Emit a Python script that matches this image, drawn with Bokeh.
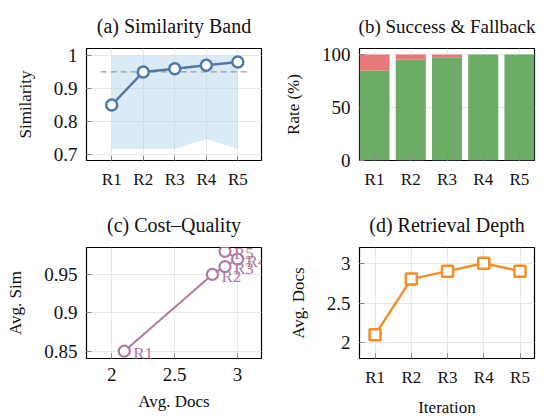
from bokeh.plotting import figure
from bokeh.layouts import column, row
from bokeh.models import FixedTicker, NumeralTickFormatter, Range1d, ColumnDataSource, LabelSet
from bokeh.embed import file_html
from bokeh.resources import INLINE

# ---- data ----
rounds = ["R1", "R2", "R3", "R4", "R5"]
idx = [1, 2, 3, 4, 5]
similarity = [0.85, 0.95, 0.96, 0.97, 0.98]
band_low = [0.717, 0.717, 0.717, 0.747, 0.717]
band_high = [1.0, 1.0, 1.0, 1.0, 1.0]
threshold = 0.95
success = [85, 95, 97.5, 100, 100]
fallback = [15, 5, 2.5, 0, 0]
avg_docs = [2.1, 2.8, 2.9, 3.0, 2.9]

FONT = "Liberation Serif"
BLUE = "#4e79a7"
GREEN = "#6cac67"
RED = "#e8797a"
PINK = "#b07aa1"
ORANGE = "#f28e2b"


def style(p, xticks, yticks, xlabels=None, title_size="20px"):
    p.title.text_font = FONT
    p.title.text_font_size = title_size
    p.title.text_font_style = "normal"
    p.title.align = "center"
    p.title.text_color = "#111111"
    p.title.standoff = 24
    p.outline_line_color = "black"
    p.outline_line_width = 1.2
    p.outline_line_alpha = 1
    for ax in p.axis:
        ax.axis_line_color = None
        ax.major_tick_in = 5
        ax.major_tick_out = 0
        ax.major_tick_line_color = "#888888"
        ax.minor_tick_line_color = None
        ax.major_label_text_font = FONT
        ax.axis_label_text_font = FONT
        ax.axis_label_text_font_style = "normal"
        ax.axis_label_text_font_size = "17px"
        ax.major_label_text_color = "#111111"
        ax.axis_label_text_color = "#111111"
        ax.major_label_standoff = 9
    p.yaxis.axis_label_standoff = 16
    p.xaxis.axis_label_standoff = 8
    p.xaxis.ticker = FixedTicker(ticks=xticks)
    p.yaxis.ticker = FixedTicker(ticks=yticks)
    if xlabels is not None:
        p.xaxis.major_label_overrides = {t: l for t, l in zip(xticks, xlabels)}
        p.xaxis.major_label_text_font_size = "17px"
    else:
        p.xaxis.major_label_text_font_size = "19px"
        p.xaxis.formatter = NumeralTickFormatter(format="0.[00]")
    p.yaxis.major_label_text_font_size = "19px"
    p.yaxis.formatter = NumeralTickFormatter(format="0.[00]")
    p.grid.grid_line_color = "#e8e8e8"
    p.grid.grid_line_width = 1
    p.background_fill_color = "white"
    p.border_fill_color = "white"


common = dict(output_backend="svg", toolbar_location=None, frame_width=175)

# (a) Similarity Band
pa = figure(title="(a) Similarity Band", frame_height=112,
            x_range=Range1d(0.2, 5.75), y_range=Range1d(0.682, 1.021),
            min_border_left=86, min_border_right=7, min_border_top=35, min_border_bottom=39,
            **common)
pa.varea(x=idx, y1=band_low, y2=band_high, fill_color="#a0cbe8", fill_alpha=0.38)
pa.line([idx[0] - 0.35, idx[-1] + 0.35], [threshold, threshold], line_color="#999999",
        line_dash="6 4", line_width=1.3)
pa.line(idx, similarity, line_color=BLUE, line_width=2.5)
pa.scatter(idx, similarity, size=11, line_color=BLUE, line_width=2.5, fill_color="white")
pa.yaxis.axis_label = "Similarity"
style(pa, idx, [0.7, 0.8, 0.9, 1.0], xlabels=rounds)

# (b) Success & Fallback
pb = figure(title="(b) Success & Fallback", frame_height=112,
            x_range=Range1d(0.585, 5.415), y_range=Range1d(0, 105.7),
            min_border_left=91, min_border_right=3, min_border_top=35, min_border_bottom=39,
            **common)
src = ColumnDataSource(dict(x=idx, success=success, fallback=fallback))
pb.vbar_stack(["success", "fallback"], x="x", width=0.83, source=src,
              color=[GREEN, RED], line_color=None)
pb.yaxis.axis_label = "Rate (%)"
style(pb, idx, [0, 50, 100], xlabels=rounds, title_size="19px")

# (c) Cost-Quality
pc = figure(title="(c) Cost\u2013Quality", frame_height=111,
            x_range=Range1d(1.80, 3.19), y_range=Range1d(0.8405, 0.985),
            min_border_left=86, min_border_right=7, min_border_top=46, min_border_bottom=57,
            **common)
csrc = ColumnDataSource(dict(x=avg_docs, y=similarity, name=rounds))
pc.line("x", "y", source=csrc, line_color=PINK, line_width=2)
pc.scatter("x", "y", source=csrc, size=11, line_color=PINK, line_width=2.2, fill_color="white")
pc.add_layout(LabelSet(x="x", y="y", text="name", source=csrc, x_offset=9, y_offset=-2,
                       text_font=FONT, text_font_size="17px", text_color=PINK,
                       text_baseline="middle", text_align="left"))
pc.xaxis.axis_label = "Avg. Docs"
pc.yaxis.axis_label = "Avg. Sim"
style(pc, [2, 2.5, 3], [0.85, 0.9, 0.95])

# (d) Retrieval Depth
pd_ = figure(title="(d) Retrieval Depth", frame_height=111,
             x_range=Range1d(0.57, 5.4), y_range=Range1d(1.803, 3.197),
             min_border_left=91, min_border_right=3, min_border_top=46, min_border_bottom=57,
             **common)
pd_.line(idx, avg_docs, line_color=ORANGE, line_width=2.5)
pd_.scatter(idx, avg_docs, marker="square", size=11, line_color=ORANGE, line_width=2.5,
            fill_color="white")
pd_.xaxis.axis_label = "Iteration"
pd_.yaxis.axis_label = "Avg. Docs"
style(pd_, idx, [2, 2.5, 3], xlabels=rounds)

p = column(row(pa, pb), row(pc, pd_))
open("out.html", "w").write(file_html(p, INLINE))
